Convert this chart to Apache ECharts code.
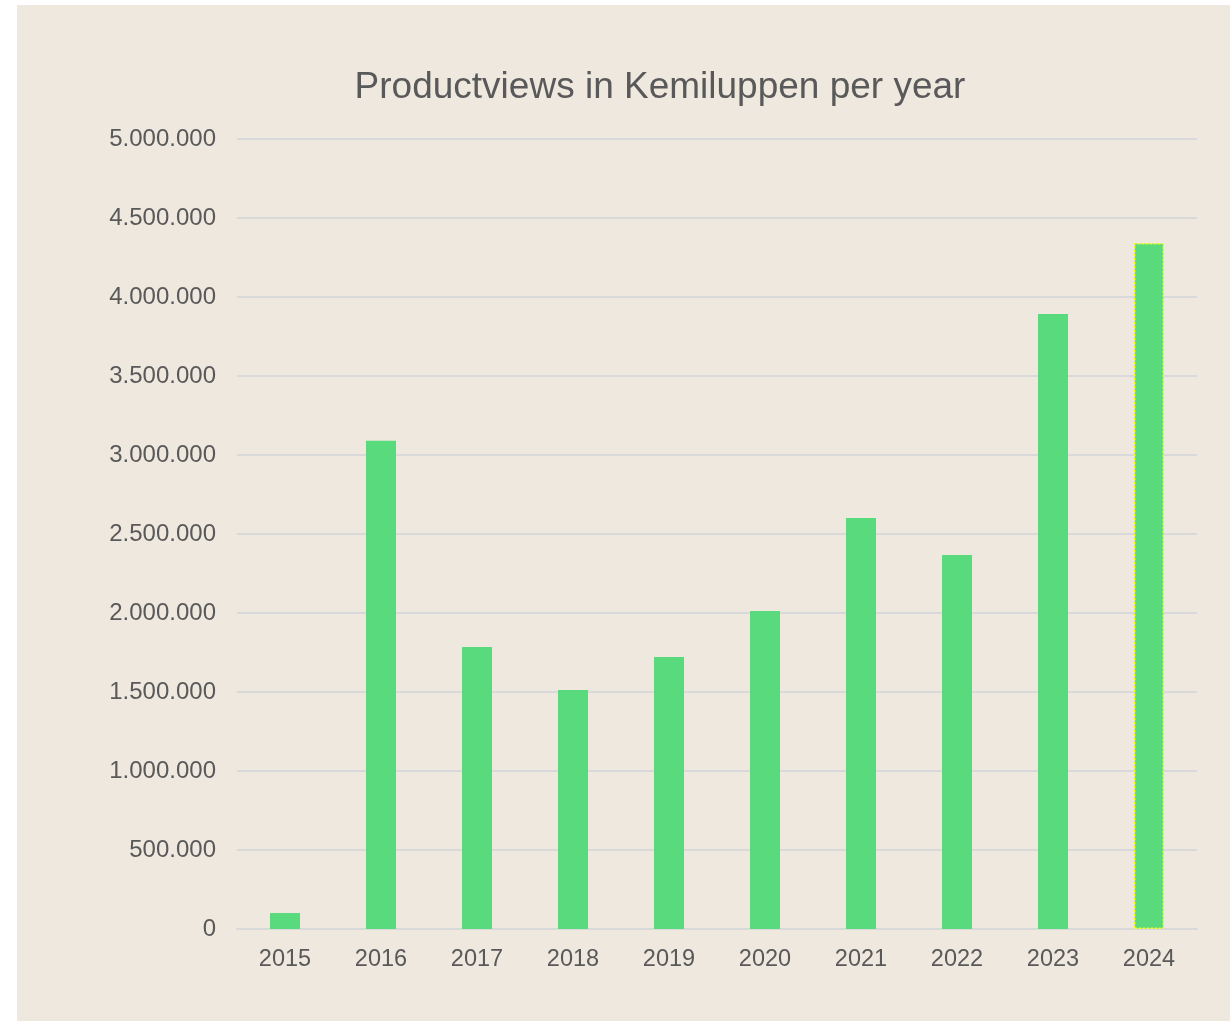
<!DOCTYPE html>
<html>
<head>
<meta charset="utf-8">
<script src="https://cdn.jsdelivr.net/npm/echarts@6/dist/echarts.min.js"></script>
<style>
  html, body { margin: 0; padding: 0; background: #ffffff; }
  #chart { position: absolute; left: 17px; top: 5px; width: 1213px; height: 1016px; }
</style>
</head>
<body>
<div id="chart"></div>
<script>
  const years = ['2015', '2016', '2017', '2018', '2019', '2020', '2021', '2022', '2023', '2024']
  const views = [101000, 3090000, 1785000, 1513000, 1722000, 2013000, 2601000, 2367000, 3892000, 4342000]
  const titleText = 'Productviews in Kemiluppen per year'

  const textColor = '#595959'
  const barColor = '#58DA7D'

  function fmt(v) {
    return String(v).replace(/\B(?=(\d{3})+(?!\d))/g, '.')
  }

  let seriesData = views.map((v, i) => {
    if (i === views.length - 1) {
      // last bar is shown selected, with a dotted yellow outline
      return { value: v, itemStyle: { borderColor: '#FFFF00', borderWidth: 1.5, borderType: [2, 2] } }
    }
    return v
  })

  let myChart = echarts.init(document.getElementById('chart'))
  myChart.setOption({
    backgroundColor: '#EEE8DF',
    animation: false,
    textStyle: { fontFamily: 'Liberation Sans, Arial, sans-serif' },
    title: {
      text: titleText,
      left: 643,
      top: 64,
      padding: 0,
      textAlign: 'center',
      textStyle: {
        color: textColor,
        fontSize: 37,
        fontWeight: 'normal',
        fontFamily: 'Liberation Sans, Arial, sans-serif'
      }
    },
    grid: {
      left: 220,
      top: 134,
      width: 960,
      height: 790,
      containLabel: false
    },
    xAxis: {
      type: 'category',
      data: years,
      axisTick: { show: false },
      axisLine: { show: true, lineStyle: { color: '#D9D9D9', width: 2 } },
      axisLabel: { color: textColor, fontSize: 23.5, margin: 19 }
    },
    yAxis: {
      type: 'value',
      min: 0,
      max: 5000000,
      interval: 500000,
      axisLine: { show: false },
      axisTick: { show: false },
      splitLine: { lineStyle: { color: '#D9D9D9', width: 2 } },
      axisLabel: { color: textColor, fontSize: 24, margin: 21, padding: [4, 0, 0, 0], formatter: fmt }
    },
    series: [
      {
        type: 'bar',
        data: seriesData,
        barWidth: 30,
        itemStyle: { color: barColor }
      }
    ]
  })
</script>
</body>
</html>
